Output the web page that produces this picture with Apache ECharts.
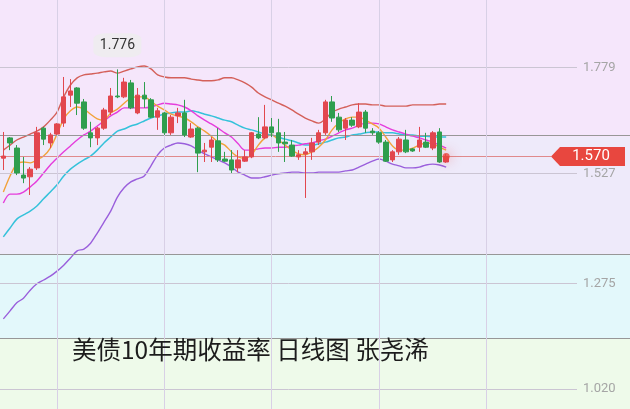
<!DOCTYPE html>
<html><head><meta charset="utf-8">
<script src="https://cdn.jsdelivr.net/npm/echarts/dist/echarts.min.js"></script>
<style>html,body{margin:0;padding:0;background:#fff}#c{width:630px;height:409px}</style>
</head><body><div id="c"></div>
<script>
// ---- data ----
const categories = Array.from({length: 86}, (_, i) => 'D' + (i + 1));
// [open, close, low, high]
const ohlc = [
[1.566,1.571,1.538,1.628],[1.614,1.602,1.585,1.616],[1.590,1.531,1.526,1.597],[1.526,1.519,1.507,1.569],
[1.522,1.540,1.479,1.545],[1.543,1.626,1.538,1.640],[1.637,1.611,1.597,1.640],[1.602,1.621,1.590,1.626],
[1.623,1.647,1.621,1.649],[1.649,1.711,1.640,1.758],[1.715,1.725,1.687,1.753],[1.732,1.696,1.668,1.734],
[1.699,1.637,1.633,1.706],[1.626,1.614,1.592,1.652],[1.614,1.637,1.597,1.640],[1.637,1.680,1.633,1.685],
[1.675,1.713,1.668,1.732],[1.713,1.711,1.708,1.776],[1.711,1.746,1.708,1.756],[1.744,1.685,1.682,1.751],
[1.673,1.715,1.670,1.732],[1.715,1.706,1.685,1.746],[1.704,1.663,1.661,1.708],[1.663,1.678,1.633,1.685],
[1.673,1.626,1.621,1.675],[1.626,1.663,1.621,1.668],[1.666,1.673,1.649,1.685],[1.673,1.621,1.616,1.704],
[1.616,1.635,1.614,1.649],[1.637,1.578,1.533,1.640],[1.581,1.585,1.557,1.602],[1.592,1.609,1.557,1.616],
[1.607,1.562,1.557,1.637],[1.564,1.559,1.557,1.581],[1.562,1.538,1.531,1.585],[1.543,1.562,1.533,1.585],
[1.559,1.569,1.557,1.585],[1.569,1.626,1.566,1.628],[1.623,1.614,1.611,1.663],[1.614,1.640,1.611,1.692],
[1.640,1.626,1.616,1.661],[1.626,1.602,1.581,1.659],[1.604,1.600,1.557,1.628],[1.597,1.571,1.569,1.609],
[1.569,1.574,1.562,1.585],[1.576,1.581,1.472,1.590],[1.581,1.602,1.562,1.614],[1.604,1.626,1.597,1.633],
[1.626,1.699,1.621,1.704],[1.699,1.661,1.652,1.713],[1.663,1.633,1.628,1.673],[1.637,1.656,1.609,1.661],
[1.656,1.644,1.640,1.663],[1.640,1.675,1.637,1.696],[1.675,1.637,1.626,1.680],[1.630,1.626,1.621,1.637],
[1.626,1.604,1.600,1.630],[1.604,1.559,1.557,1.609],[1.562,1.581,1.557,1.585],[1.581,1.611,1.574,1.616],
[1.609,1.581,1.578,1.633],[1.588,1.583,1.581,1.590],[1.592,1.609,1.581,1.640],[1.604,1.592,1.590,1.626],
[1.590,1.626,1.585,1.630],[1.628,1.557,1.555,1.637],[1.557,1.570,1.555,1.576]
];
const bollUpper = [1.585,1.597,1.609,1.616,1.623,1.630,1.640,1.656,1.675,1.711,1.739,1.756,1.763,1.765,1.767,1.770,1.772,1.767,1.772,1.777,1.782,1.784,1.777,1.763,1.758,1.756,1.756,1.756,1.753,1.751,1.749,1.749,1.751,1.756,1.756,1.751,1.744,1.734,1.720,1.711,1.704,1.696,1.689,1.680,1.670,1.661,1.654,1.649,1.659,1.675,1.682,1.687,1.692,1.694,1.694,1.692,1.692,1.689,1.689,1.689,1.689,1.692,1.692,1.692,1.692,1.694,1.694];
const bollLower = [1.186,1.205,1.224,1.235,1.254,1.269,1.278,1.287,1.299,1.313,1.330,1.347,1.351,1.365,1.389,1.415,1.441,1.474,1.496,1.510,1.517,1.524,1.548,1.574,1.590,1.597,1.602,1.600,1.595,1.585,1.576,1.569,1.562,1.555,1.545,1.533,1.526,1.519,1.519,1.522,1.526,1.529,1.531,1.533,1.533,1.531,1.531,1.533,1.533,1.533,1.533,1.536,1.538,1.545,1.552,1.559,1.564,1.559,1.552,1.548,1.543,1.543,1.545,1.550,1.552,1.550,1.545];
const maCyan = [1.380,1.401,1.422,1.432,1.441,1.453,1.470,1.486,1.503,1.524,1.540,1.552,1.562,1.571,1.585,1.602,1.616,1.630,1.635,1.642,1.647,1.654,1.661,1.666,1.670,1.673,1.675,1.675,1.678,1.675,1.670,1.666,1.661,1.656,1.652,1.644,1.637,1.633,1.628,1.623,1.621,1.616,1.611,1.607,1.602,1.597,1.597,1.600,1.604,1.609,1.614,1.616,1.621,1.623,1.626,1.628,1.628,1.626,1.626,1.623,1.621,1.621,1.618,1.618,1.616,1.616,1.616];
const maMagenta = [1.460,1.481,1.481,1.486,1.498,1.512,1.531,1.550,1.566,1.581,1.595,1.609,1.621,1.630,1.642,1.654,1.666,1.675,1.685,1.685,1.685,1.685,1.687,1.692,1.696,1.694,1.692,1.687,1.678,1.666,1.656,1.647,1.637,1.626,1.616,1.600,1.585,1.585,1.588,1.590,1.590,1.592,1.592,1.595,1.597,1.600,1.602,1.607,1.611,1.618,1.626,1.633,1.637,1.644,1.649,1.649,1.647,1.640,1.633,1.628,1.623,1.618,1.614,1.609,1.604,1.597,1.590];
const maOrange = [1.486,1.524,1.552,1.557,1.555,1.562,1.571,1.590,1.623,1.659,1.678,1.687,1.682,1.670,1.659,1.656,1.673,1.682,1.696,1.708,1.711,1.711,1.701,1.689,1.680,1.670,1.666,1.661,1.652,1.640,1.630,1.618,1.604,1.597,1.581,1.569,1.566,1.574,1.597,1.614,1.621,1.609,1.597,1.585,1.576,1.574,1.581,1.592,1.609,1.633,1.649,1.659,1.663,1.663,1.656,1.647,1.637,1.616,1.595,1.585,1.585,1.590,1.597,1.602,1.600,1.592,1.585];
const tickValues = [1.779, 1.527, 1.275, 1.020];
const tickLabels = ['1.779', '1.527', '1.275', '1.020'];
const lastPrice = 1.570;
const bandEdges = [1.940, 1.616, 1.337, 1.141, 0.973];
const bandColors = ['#f5e6fb', '#eeeafa', '#e3f8fb', '#eefaea'];
const vLineCats = [8, 24, 40, 56, 72];
const titleText = '美债10年期收益率 日线图 张尧浠';

const Y_MIN = 0.973, Y_MAX = 1.940;

const chart = echarts.init(document.getElementById('c'), null, {renderer: 'canvas'});

const bandAreas = [];
for (let i = 0; i < bandColors.length; i++) {
  bandAreas.push([{yAxis: bandEdges[i], itemStyle: {color: bandColors[i]}}, {yAxis: bandEdges[i + 1]}]);
}

chart.setOption({
  animation: false,
  backgroundColor: '#fff',
  title: {
    text: titleText, left: 72, top: 337, padding: 0,
    textStyle: {fontSize: 24.5, fontWeight: 'normal', color: '#1c1c1c', fontFamily: 'Noto Sans CJK SC'}
  },
  grid: [
    {left: -2.4, right: 53, top: 0, bottom: 0, containLabel: false},
    {left: 0, right: 0, top: 0, bottom: 0, containLabel: false}
  ],
  xAxis: [
    {type: 'category', data: categories, gridIndex: 0, boundaryGap: true,
     axisLine: {show: false}, axisTick: {show: false}, axisLabel: {show: false}, splitLine: {show: false}},
    {type: 'value', gridIndex: 1, min: 0, max: 630, show: false}
  ],
  yAxis: [
    {type: 'value', gridIndex: 0, min: Y_MIN, max: Y_MAX, show: false, splitLine: {show: false}},
    {type: 'value', gridIndex: 1, min: Y_MIN, max: Y_MAX, show: false, splitLine: {show: false}}
  ],
  series: [
    {
      name: 'bg', type: 'line', xAxisIndex: 1, yAxisIndex: 1, data: [], z: 0, silent: true,
      markArea: {silent: true, data: bandAreas},
      markLine: {
        silent: true, symbol: 'none', label: {show: false}, animation: false,
        data: [
          {yAxis: bandEdges[1], lineStyle: {color: '#979797', width: 1, type: 'solid'}},
          {yAxis: bandEdges[2], lineStyle: {color: '#979797', width: 1, type: 'solid'}},
          {yAxis: bandEdges[3], lineStyle: {color: '#979797', width: 1, type: 'solid'}},
          [{coord: [0, lastPrice], lineStyle: {color: '#e08a8c', width: 1, type: 'solid'}}, {coord: [551, lastPrice]}]
        ]
      }
    },
    {
      name: 'grid', type: 'line', xAxisIndex: 0, yAxisIndex: 0, data: [], z: 1, silent: true,
      markLine: {
        silent: true, symbol: 'none', animation: false,
        data: tickValues.map((v, i) => ({
          yAxis: v,
          lineStyle: {color: '#cbc5d3', width: 1, type: 'solid'},
          label: {show: true, position: 'end', distance: 6, formatter: tickLabels[i],
                  color: '#a5a5a5', fontSize: 13, fontFamily: 'Roboto'}
        })).concat(vLineCats.map(c => ({
          xAxis: categories[c],
          lineStyle: {color: '#d8d0e6', width: 1, type: 'solid'},
          label: {show: false}
        })))
      }
    },
    {
      name: 'tag', type: 'line', xAxisIndex: 1, yAxisIndex: 1, data: [], z: 10, silent: true,
      markPoint: {
        silent: true,
        data: [{
          coord: [588, lastPrice],
          symbol: 'path://M0,9.5 L9,0 L74,0 L74,19 L9,19 Z',
          symbolSize: [74, 19],
          itemStyle: {color: '#e8473f'},
          label: {show: true, formatter: lastPrice.toFixed(3), color: '#fff', fontSize: 15,
                  fontFamily: 'Roboto', offset: [3, 0]}
        }]
      }
    },
    {name: 'UP', type: 'line', data: bollUpper, symbol: 'none', z: 3, lineStyle: {color: '#d4605a', width: 1.4}, smooth: 0.3},
    {name: 'DN', type: 'line', data: bollLower, symbol: 'none', z: 3, lineStyle: {color: '#9a5fdc', width: 1.4}, smooth: 0.3},
    {name: 'MID', type: 'line', data: maCyan, symbol: 'none', z: 3, lineStyle: {color: '#35c2da', width: 1.5}, smooth: 0.3},
    {name: 'MA10', type: 'line', data: maMagenta, symbol: 'none', z: 3, lineStyle: {color: '#e53ddc', width: 1.4}, smooth: 0.3},
    {name: 'MA5', type: 'line', data: maOrange, symbol: 'none', z: 3, lineStyle: {color: '#f2a23a', width: 1.4}, smooth: 0.3},
    {
      name: 'K', type: 'candlestick', data: ohlc, z: 5, barWidth: 5,
      itemStyle: {color: '#e2474e', color0: '#2f9e4e', borderColor: '#e2474e', borderColor0: '#2f9e4e', borderWidth: 1},
      markPoint: {
        silent: true,
        data: [{type: 'max', valueDim: 'highest'}],
        symbol: 'roundRect', symbolSize: [48, 24], symbolOffset: [0, -24],
        itemStyle: {color: '#efecf0'},
        label: {show: true, position: 'inside', color: '#333', fontSize: 14, fontFamily: 'Roboto',
                formatter: p => Number(p.value).toFixed(3)}
      }
    },
    {
      name: 'last', type: 'scatter', z: 6, silent: true,
      data: [[ohlc.length - 1, ohlc[ohlc.length - 1][1]]],
      symbolSize: 7,
      itemStyle: {color: '#e8473f', shadowBlur: 12, shadowColor: 'rgba(232,71,63,0.9)'}
    }
  ]
});
</script></body></html>
